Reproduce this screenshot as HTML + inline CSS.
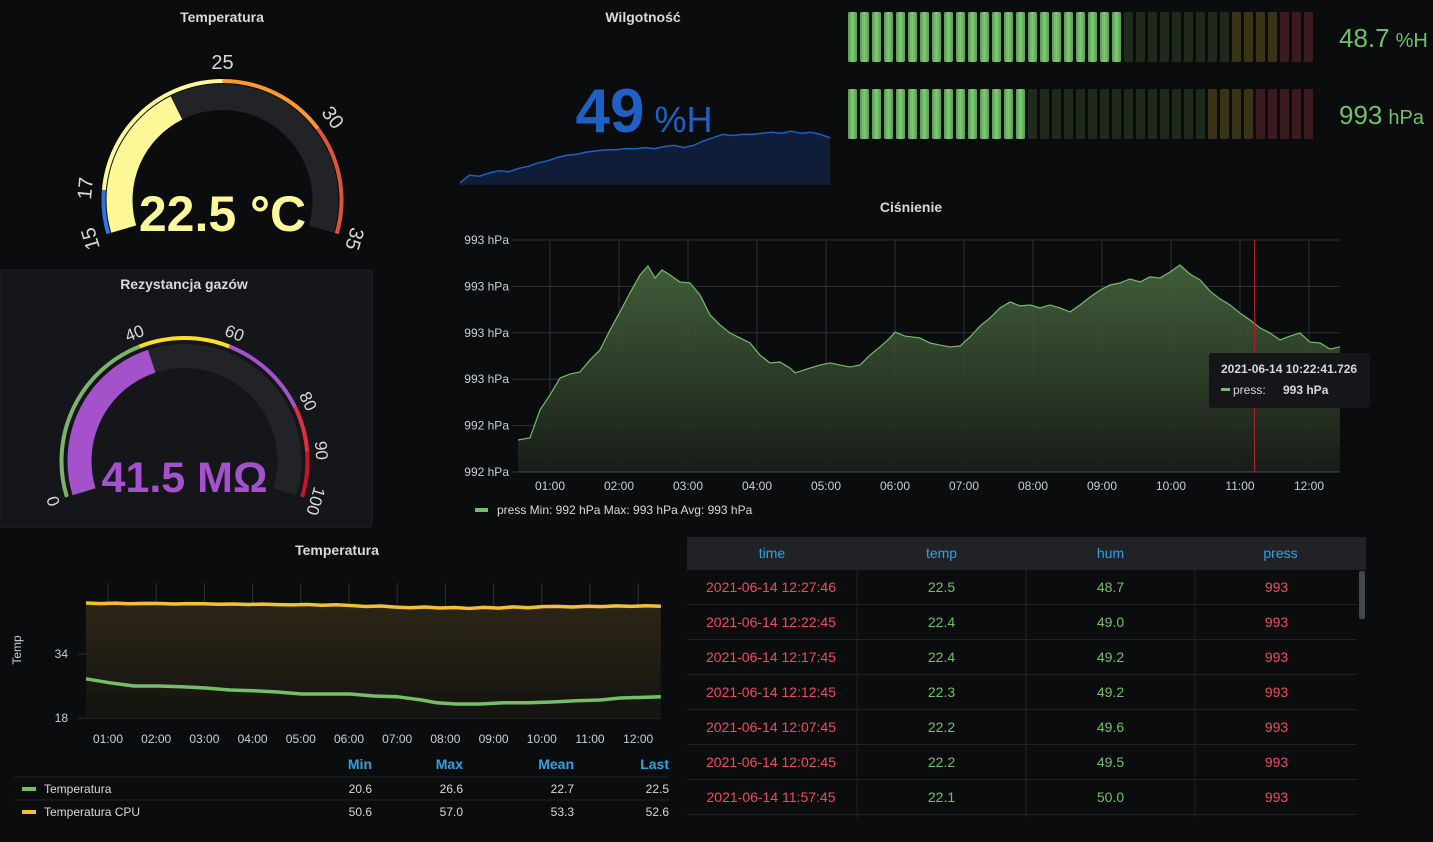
<!DOCTYPE html>
<html><head><meta charset="utf-8">
<style>
html,body{margin:0;padding:0;background:#0b0c0e;width:1433px;height:842px;overflow:hidden}
svg{display:block;font-family:"Liberation Sans",sans-serif}
</style></head>
<body>
<svg id="root" width="1433" height="842" viewBox="0 0 1433 842" xmlns="http://www.w3.org/2000/svg">
<defs>
<linearGradient id="pressFill" x1="0" y1="0" x2="0" y2="1">
<stop offset="0" stop-color="#4a6a40" stop-opacity="0.85"/>
<stop offset="1" stop-color="#1a1e19" stop-opacity="0.9"/>
</linearGradient>
<linearGradient id="cpuFill" x1="0" y1="0" x2="0" y2="1">
<stop offset="0" stop-color="#2d2617"/>
<stop offset="1" stop-color="#131310"/>
</linearGradient>
<linearGradient id="litBar" x1="0" y1="0" x2="1" y2="0">
<stop offset="0" stop-color="#5a9a52"/>
<stop offset="0.5" stop-color="#7fcb74"/>
<stop offset="1" stop-color="#5a9a52"/>
</linearGradient>
</defs>
<rect x="0" y="270" width="372" height="257" rx="2" fill="#141619" stroke="#202226"/>
<g font-size="14" font-weight="bold" fill="#d8d9da" text-anchor="middle">
<text x="222" y="22">Temperatura</text>
<text x="643" y="22">Wilgotność</text>
<text x="911" y="212">Ciśnienie</text>
<text x="184" y="289">Rezystancja gazów</text>
<text x="337" y="555">Temperatura</text>
</g>
<g id="gTemp"></g><g id="gGas"></g><g id="gHum"></g><g id="gBars"></g><g id="gPress"></g><g id="gTchart"></g><g id="gTable"></g>
</svg>
<script>
// ---------- DATA ----------
const tempGaugeValue = 22.5;
const tempGaugeRange = [15, 35];
const tempThresholdSteps = [15, 17, 25, 30, 35];
const tempThresholdColors = ["#3274d9", "#fff899", "#ff9830", "#e0523c"];
const tempGaugeTicks = [15, 17, 25, 30, 35];

const gasGaugeValue = 41.5;
const gasGaugeRange = [0, 100];
const gasThresholdSteps = [0, 40, 60, 80, 90, 100];
const gasThresholdColors = ["#7eb26d", "#fade2a", "#a352cc", "#e02f44", "#c4162a"];
const gasGaugeTicks = [0, 40, 60, 80, 90, 100];

const humSpark = [45.2,45.9,45.8,46.1,46.3,46.2,46.5,46.7,47.0,47.2,47.5,47.7,47.8,48.0,48.1,48.2,48.2,48.3,48.3,48.4,48.3,48.5,48.6,48.4,48.6,49.0,49.3,49.6,49.5,49.6,49.6,49.7,49.8,49.7,49.9,49.7,49.8,49.6,49.3];

const barHumValue = 48.7, barHumRange = [0, 82], barHumThresholds = [67.3, 75.7];
const barPressValue = 993, barPressRange = [950, 1062], barPressThresholds = [1036.2, 1047.6];

const pressTimes = [0.536,0.710,0.855,1.0,1.145,1.290,1.435,1.580,1.725,1.870,2.014,2.159,2.304,2.420,2.522,2.623,2.739,2.884,3.029,3.174,3.319,3.464,3.609,3.754,3.899,4.043,4.188,4.333,4.478,4.551,4.768,4.913,5.058,5.203,5.348,5.493,5.638,5.783,5.928,6.0,6.145,6.362,6.507,6.652,6.797,6.942,7.087,7.232,7.377,7.522,7.667,7.812,7.957,8.101,8.246,8.391,8.536,8.681,8.826,8.971,9.116,9.261,9.406,9.551,9.696,9.841,9.986,10.130,10.275,10.420,10.565,10.710,10.855,11.0,11.145,11.290,11.435,11.580,11.725,11.870,12.014,12.159,12.304,12.449];
const pressValues = [992.338,992.347,992.467,992.532,992.605,992.622,992.631,992.683,992.726,992.812,992.890,992.972,993.049,993.088,993.036,993.071,993.049,993.019,993.015,992.963,992.877,992.834,992.799,992.778,992.756,992.704,992.670,992.674,992.648,992.627,992.648,992.661,992.670,992.661,992.653,992.661,992.704,992.739,992.778,992.803,992.786,992.778,992.756,992.747,992.739,992.743,992.782,992.829,992.864,992.907,992.933,992.916,992.920,992.907,992.920,992.907,992.890,992.920,992.954,992.984,993.006,993.015,993.032,993.019,993.041,993.036,993.062,993.092,993.053,993.028,992.980,992.946,992.920,992.885,992.855,992.821,992.799,992.769,992.786,992.799,992.760,992.756,992.730,992.739];
const pressYTicks = [992.2,992.4,992.6,992.8,993.0,993.2];
const pressXTicks = ["01:00","02:00","03:00","04:00","05:00","06:00","07:00","08:00","09:00","10:00","11:00","12:00"];
const pressCursorTime = 11.21;

const tempTimes = [0.544,1.04,1.54,2.04,2.53,3.03,3.53,4.03,4.52,5.02,5.52,6.02,6.51,7.01,7.51,7.82,8.22,8.72,9.22,9.72,10.21,10.71,11.21,11.63,12.47];
const tempValues = [27.8,26.8,26.0,26.0,25.8,25.5,25.0,24.8,24.5,24.0,24.0,24.0,23.5,23.3,22.5,21.8,21.5,21.5,21.8,21.8,22.0,22.3,22.5,23.0,23.3];
const cpuValues = [57.0,56.6,56.9,56.5,56.8,56.7,56.4,56.6,56.5,56.2,56.4,56.1,56.3,56.0,55.8,56.1,55.6,55.9,55.4,54.8,55.1,54.4,54.0,54.5,53.9,54.2,53.6,54.3,53.8,54.6,54.0,54.7,54.9,54.5,55.0,54.7,55.2,54.9,55.3,55.0];
const tempYTicks = [18, 34];
const legendRows = [["Temperatura","20.6","26.6","22.7","22.5","#73bf69"],["Temperatura CPU","50.6","57.0","53.3","52.6","#f2c037"]];

const tableTimes = ["2021-06-14 12:27:46","2021-06-14 12:22:45","2021-06-14 12:17:45","2021-06-14 12:12:45","2021-06-14 12:07:45","2021-06-14 12:02:45","2021-06-14 11:57:45"];
const tableTemp = ["22.5","22.4","22.4","22.3","22.2","22.2","22.1"];
const tableHum = ["48.7","49.0","49.2","49.2","49.6","49.5","50.0"];
const tablePress = ["993","993","993","993","993","993","993"];
const tableHeaders = ["time","temp","hum","press"];

// ---------- HELPERS ----------
const NS = "http://www.w3.org/2000/svg";
function mk(tag, parent, attrs) {
  const e = document.createElementNS(NS, tag);
  for (const k in attrs) e.setAttribute(k, attrs[k]);
  parent.appendChild(e);
  return e;
}
function txt(parent, x, y, s, attrs) { const t = mk("text", parent, Object.assign({x:x, y:y}, attrs||{})); t.textContent = s; return t; }
function pt(cx, cy, r, deg) { const a = deg*Math.PI/180; return [cx + r*Math.cos(a), cy - r*Math.sin(a)]; }
function arcPath(cx, cy, r, a0, a1) {
  const p0 = pt(cx,cy,r,a0), p1 = pt(cx,cy,r,a1);
  const large = Math.abs(a0-a1) > 180 ? 1 : 0;
  return "M"+p0[0]+" "+p0[1]+" A"+r+" "+r+" 0 "+large+" 1 "+p1[0]+" "+p1[1];
}

// ---------- GAUGES ----------
function gauge(gid, cx, cy, rT, rBandO, rBandI, endAng, range, value, steps, colors, ticks, valColor, label, fsz, tickFs, rLabel, valY) {
  const g = document.getElementById(gid);
  const a0 = 180 + endAng, span = 180 + 2*endAng;
  const ang = v => a0 - (v - range[0])/(range[1]-range[0])*span;
  const rb = (rBandO + rBandI)/2, bw = rBandO - rBandI;
  const bg = mk("path", g, {d: arcPath(cx,cy,rb,ang(range[0]),ang(range[1])), stroke:"#222326", "stroke-width":bw, fill:"none"});
  
  
  const vb = mk("path", g, {d: arcPath(cx,cy,rb,ang(range[0]),ang(value)), stroke:valColor, "stroke-width":bw, fill:"none"});
  
  
  for (let i=0;i<colors.length;i++) {
    const s = mk("path", g, {d: arcPath(cx,cy,rT,ang(steps[i]),ang(steps[i+1])), stroke:colors[i], "stroke-width":4, fill:"none"});
    
    
  }
  ticks.forEach(v => {
    const a = ang(v), p = pt(cx,cy,rLabel,a);
    const t = txt(g, p[0], p[1], String(v), {fill:"#d8d9da", "font-size":tickFs, "text-anchor":"middle", "dominant-baseline":"central", transform:"rotate("+(90-a)+" "+p[0]+" "+p[1]+")"});
    
    
  });
  const vt = txt(g, cx, valY, label, {fill:valColor, "font-size":fsz, "font-weight":"bold", "text-anchor":"middle"});
  
  
}
gauge("gTemp", 222.5, 200, 119, 116, 90, 16.4, tempGaugeRange, tempGaugeValue, tempThresholdSteps, tempThresholdColors, tempGaugeTicks, "#fff899", tempGaugeValue.toFixed(1)+" °C", 50, 20, 137, 231);
gauge("gGas", 184.5, 461, 123, 117, 93, 17, gasGaugeRange, gasGaugeValue, gasThresholdSteps, gasThresholdColors, gasGaugeTicks, "#a352cc", gasGaugeValue.toFixed(1)+" MΩ", 43, 17, 137, 492);

// ---------- HUMIDITY STAT ----------
(function(){
  const g = document.getElementById("gHum");
  const x0 = 460, x1 = 830, yb = 185;
  const sx = i => x0 + i*(x1-x0)/(humSpark.length-1);
  const sy = v => 185 - (v-45)*11;
  let d = "M"+x0+" "+yb;
  humSpark.forEach((v,i)=>{ d += " L"+sx(i)+" "+sy(v); });
  d += " L"+x1+" "+yb+" Z";
  const a = mk("path", g, {d:d, fill:"#0f1d38"});
  
  
  let l = ""; humSpark.forEach((v,i)=>{ l += (i?" L":"M")+sx(i)+" "+sy(v); });
  const ln = mk("path", g, {d:l, fill:"none", stroke:"#1f60c4", "stroke-width":1.5});
  
  
  const t = mk("text", g, {x:644, y:132, fill:"#1f60c4", "text-anchor":"middle"});
  
  
  t.innerHTML = '<tspan font-size="62" font-weight="bold">49</tspan><tspan font-size="36" dx="10">%H</tspan>';
})();

// ---------- BAR GAUGES ----------
function barGauge(y, h, value, range, th, label, unit, name) {
  const g = document.getElementById("gBars");
  const n = 39, x0 = 848, pitch = 12, bw = 9;
  const frac = (value-range[0])/(range[1]-range[0]);
  const fy = (th[0]-range[0])/(range[1]-range[0]), fr = (th[1]-range[0])/(range[1]-range[0]);
  for (let i=0;i<n;i++) {
    const f = (i+0.5)/n;
    let fill;
    if (f <= frac) fill = "url(#litBar)";
    else if (f >= fr) fill = "#3a1b1f";
    else if (f >= fy) fill = "#3a3417";
    else fill = "#1f2a1d";
    const r = mk("rect", g, {x:x0+i*pitch, y:y, width:bw, height:h, rx:1.5, fill:fill});
    
    
  }
  const t = mk("text", g, {x:1339, y:y+h/2+10, fill:"#73bf69"});
  
  
  t.innerHTML = '<tspan font-size="26">'+label+'</tspan><tspan font-size="20" dx="6">'+unit+'</tspan>';
}
barGauge(12, 50, barHumValue, barHumRange, barHumThresholds, barHumValue.toFixed(1), "%H", "humidity-bar-gauge");
barGauge(89, 50, barPressValue, barPressRange, barPressThresholds, String(barPressValue), "hPa", "pressure-bar-gauge");

// ---------- PRESSURE CHART ----------
(function(){
  const g = document.getElementById("gPress");
  const L=518, R=1340, T=240, B=472;
  const yMin = pressYTicks[0], yMax = pressYTicks[pressYTicks.length-1];
  const X = t => 550 + (t-1)*69;
  const Y = v => B - (v-yMin)/(yMax-yMin)*(B-T);
  pressYTicks.forEach(v=>{
    const gl = mk("line", g, {x1:L-6, x2:R, y1:Y(v), y2:Y(v), stroke:"#2f3034", "stroke-width":1});
    
    
    const t = txt(g, 509, Y(v)+4, Math.round(v)+" hPa", {fill:"#c7d0d9", "font-size":12, "text-anchor":"end"});
    
    
  });
  pressXTicks.forEach((s,i)=>{
    const x = X(i+1);
    const gl = mk("line", g, {x1:x, x2:x, y1:T, y2:B, stroke:"#2f3034"});
    
    
    const t = txt(g, x, 490, s, {fill:"#c7d0d9", "font-size":12, "text-anchor":"middle"});
    
    
  });
  let d = "M"+X(pressTimes[0])+" "+B;
  pressTimes.forEach((t,i)=>{ d += " L"+X(t)+" "+Y(pressValues[i]); });
  d += " L"+X(pressTimes[pressTimes.length-1])+" "+B+" Z";
  const a = mk("path", g, {d:d, fill:"url(#pressFill)"});
  
  
  let l=""; pressTimes.forEach((t,i)=>{ l += (i?" L":"M")+X(t)+" "+Y(pressValues[i]); });
  const ln = mk("path", g, {d:l, fill:"none", stroke:"#73bf69", "stroke-width":1.2});
  
  
  const ax = mk("line", g, {x1:L, x2:R, y1:B, y2:B, stroke:"#464c54"});
  
  
  const cx = X(pressCursorTime);
  const cur = mk("line", g, {x1:cx, x2:cx, y1:T, y2:B, stroke:"#c4162a", "stroke-width":1});
  
  
  const tip = mk("g", g, {});
  
  
  mk("rect", tip, {x:1209, y:353, width:161, height:55, rx:3, fill:"#141619"});
  txt(tip, 1221, 373, "2021-06-14 10:22:41.726", {fill:"#d8d9da", "font-size":12, "font-weight":"bold"});
  mk("rect", tip, {x:1221, y:388, width:9, height:3, fill:"#73bf69"});
  txt(tip, 1233, 394, "press:", {fill:"#d8d9da", "font-size":12});
  txt(tip, 1283, 394, "993 hPa", {fill:"#d8d9da", "font-size":12, "font-weight":"bold"});
  const lg = mk("g", g, {});
  
  
  mk("rect", lg, {x:475, y:508, width:13, height:4, fill:"#73bf69"});
  txt(lg, 497, 514, "press  Min: 992 hPa  Max: 993 hPa  Avg: 993 hPa", {fill:"#d8d9da", "font-size":12, "xml:space":"preserve"});
})();

// ---------- TEMPERATURE CHART ----------
(function(){
  const g = document.getElementById("gTchart");
  const L=86, R=661, T=583, B=718;
  const X = t => 108 + (t-1)*48.2;
  const Y = v => 718 - (v-18)*4;
  const Yc = v => 603 + (57-v)*1.6;
  tempYTicks.forEach(v=>{
    const gl = mk("line", g, {x1:78, x2:R, y1:Y(v), y2:Y(v), stroke:"#2f3034"});
    
    
    const t = txt(g, 68, Y(v)+4, String(v), {fill:"#c7d0d9", "font-size":12, "text-anchor":"end"});
    
    
  });
  const yt = txt(g, 21, 650, "Temp", {fill:"#c7d0d9", "font-size":12, "text-anchor":"middle", transform:"rotate(-90 21 650)"});
  
  
  pressXTicks.forEach((s,i)=>{
    const x = X(i+1);
    const gl = mk("line", g, {x1:x, x2:x, y1:T, y2:B, stroke:"#2f3034"});
    
    
    const t = txt(g, x, 743, s, {fill:"#c7d0d9", "font-size":12, "text-anchor":"middle"});
    
    
  });
  const cx = i => X(tempTimes[0]) + i*(X(tempTimes[tempTimes.length-1])-X(tempTimes[0]))/(cpuValues.length-1);
  let d = "M"+cx(0)+" "+B;
  cpuValues.forEach((v,i)=>{ d += " L"+cx(i)+" "+Yc(v); });
  d += " L"+cx(cpuValues.length-1)+" "+B+" Z";
  const a = mk("path", g, {d:d, fill:"url(#cpuFill)"});
  
  
  let l=""; cpuValues.forEach((v,i)=>{ l += (i?" L":"M")+cx(i)+" "+Yc(v); });
  const ln = mk("path", g, {d:l, fill:"none", stroke:"#f2c037", "stroke-width":3.5, "stroke-linejoin":"round"});
  
  
  let l2=""; tempTimes.forEach((t,i)=>{ l2 += (i?" L":"M")+X(t)+" "+Y(tempValues[i]); });
  const ln2 = mk("path", g, {d:l2, fill:"none", stroke:"#73bf69", "stroke-width":3.5, "stroke-linejoin":"round"});
  
  
  const hdr = ["Min","Max","Mean","Last"], hx = [372, 463, 574, 669];
  hdr.forEach((h,i)=>{
    const t = txt(g, hx[i], 769, h, {fill:"#33a2e5", "font-size":14, "font-weight":"bold", "text-anchor":"end"});
    
    
  });
  [777, 800].forEach(y=>{ const s = mk("line", g, {x1:14, x2:669, y1:y, y2:y, stroke:"#202226"});
    
     });
  legendRows.forEach((r,j)=>{
    const y = 793 + j*23;
    const row = mk("g", g, {});
    
    
    mk("rect", row, {x:22, y:y-6, width:14, height:4, fill:r[5]});
    txt(row, 44, y, r[0], {fill:"#d8d9da", "font-size":12});
    for (let k=1;k<5;k++) txt(row, hx[k-1], y, r[k], {fill:"#d8d9da", "font-size":12, "text-anchor":"end"});
  });
})();

// ---------- TABLE ----------
(function(){
  const g = document.getElementById("gTable");
  const cols = [687, 857, 1026, 1195, 1366];
  const hb = mk("rect", g, {x:687, y:537, width:679, height:33, fill:"#202226"});
  
  
  tableHeaders.forEach((h,i)=>{
    const t = txt(g, (cols[i]+cols[i+1])/2, 558, h, {fill:"#33a2e5", "font-size":14, "text-anchor":"middle"});
    
    
  });
  [857,1026,1195].forEach(x=>{ const l = mk("line", g, {x1:x, x2:x, y1:537, y2:818, stroke:"#202226"});
    
     });
  const colsData = [tableTimes, tableTemp, tableHum, tablePress];
  const colColors = ["#f2495c","#73bf69","#73bf69","#f2495c"];
  tableTimes.forEach((_,r)=>{
    const y = 570 + r*35;
    const sep = mk("line", g, {x1:687, x2:1357, y1:y+34.5, y2:y+34.5, stroke:"#202226"});
    
    
    colsData.forEach((c,i)=>{
      const cx = i===0 ? 771 : (cols[i]+cols[i+1])/2 - (i===3?4:0);
      const t = txt(g, cx, y+22, c[r], {fill:colColors[i], "font-size":14, "text-anchor":"middle"});
      
      
    });
  });
  const sb = mk("rect", g, {x:1359, y:571, width:6, height:48, rx:2, fill:"#44464d"});
  
  
})();
</script>
</body></html>
